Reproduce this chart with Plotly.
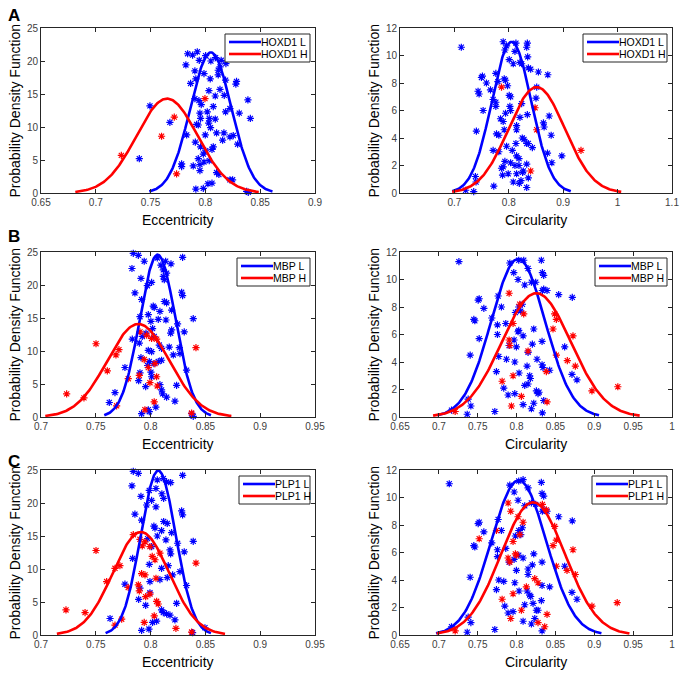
import numpy as np
import plotly.graph_objects as go

# ---------------- data ----------------
# Panel A : HOXD1  -- eccentricity
hoxd1_ecc_L = [(0.7838,21.1),(0.7883,20.9),(0.7926,21.4),(0.7944,20.1),(0.8002,20.8),(0.805,20.0),(0.8093,20.5),
               (0.8144,20.1),(0.8187,19.6),(0.8133,19.1),(0.7904,18.5),(0.7822,19.4),(0.7865,16.6),(0.7913,17.3),
               (0.7987,18.1),(0.8044,17.3),(0.8117,17.9),(0.8117,18.6),(0.8184,17.1),(0.8284,16.9),(0.8278,16.5),
               (0.8032,15.5),(0.8133,15.7),(0.7904,14.3),(0.7941,14.0),(0.7962,13.4),(0.809,14.7),(0.8172,14.8),
               (0.8224,12.8),(0.8388,14.1),(0.841,11.3),(0.8309,12.1),(0.8184,12.3),(0.8017,12.3),(0.8072,13.1),
               (0.809,11.2),(0.8035,11.3),(0.795,12.1),(0.7956,11.3),(0.7494,13.2),(0.7676,10.7),(0.7935,10.3),
               (0.792,10.4),(0.803,10.6),(0.8047,9.9),(0.7999,8.8),(0.7908,7.7),(0.7829,8.8),(0.8102,9.1),
               (0.8169,9.1),(0.8224,8.5),(0.8254,8.7),(0.8157,8.0),(0.8294,7.4),(0.8072,7.0),(0.7956,7.0),
               (0.8002,6.4),(0.806,6.6),(0.7981,5.9),(0.7935,5.2),(0.8035,4.9),(0.7783,4.4),(0.7783,4.0),
               (0.7889,4.1),(0.795,4.3),(0.7987,4.7),(0.7397,5.2),(0.795,3.4),(0.8102,3.1),(0.8123,2.8),
               (0.8224,2.0),(0.8248,2.0),(0.8023,1.4),(0.806,1.5),(0.7913,0.6),(0.7981,0.7),(0.8376,0.25),(0.8391,0.1)]
hoxd1_ecc_H = [(0.7996,14.3),(0.7716,11.5),(0.76,8.6),(0.7233,5.7),(0.7737,2.9)]

# Panel A : HOXD1  -- circularity
hoxd1_circ_L = [(0.7127,10.6),(0.7897,11.0),(0.7928,10.4),(0.7959,10.7),(0.8131,10.9),(0.8113,10.3),(0.8341,10.9),
                (0.8329,10.6),(0.8347,9.9),(0.8205,9.5),(0.8236,9.4),(0.8008,9.7),(0.8082,9.4),(0.8359,9.1),
                (0.8402,9.0),(0.8544,8.8),(0.8717,8.6),(0.7515,8.5),(0.7497,8.4),(0.7589,8.0),(0.7762,8.7),
                (0.7799,8.1),(0.7916,8.3),(0.794,8.2),(0.7977,7.8),(0.7663,7.5),(0.7435,7.4),(0.7454,7.2),
                (0.7712,6.8),(0.7762,6.6),(0.8008,7.1),(0.8033,7.0),(0.7762,6.3),(0.802,6.3),(0.8033,6.0),
                (0.7528,6.0),(0.8236,6.5),(0.8513,7.7),(0.85,6.9),(0.8205,5.5),(0.8341,5.7),(0.794,5.8),
                (0.7848,5.4),(0.7897,5.2),(0.8742,5.6),(0.8637,5.1),(0.8649,4.8),(0.8143,4.9),(0.8143,4.6),
                (0.7404,4.5),(0.7774,4.3),(0.7817,4.2),(0.7916,4.6),(0.8779,4.2),(0.8248,4.0),(0.8279,3.9),
                (0.7959,3.4),(0.8131,3.6),(0.8329,3.6),(0.8359,3.6),(0.8433,3.3),(0.7712,3.1),(0.7817,3.0),
                (0.8064,3.1),(0.8975,2.7),(0.8711,2.9),(0.8791,2.2),(0.7928,2.3),(0.8143,2.7),(0.8187,2.5),
                (0.8033,2.2),(0.8329,2.1),(0.7897,1.9),(0.8113,2.0),(0.8187,2.0),(0.8267,1.6),(0.8254,1.5),
                (0.7866,1.8),(0.7885,1.3),(0.7989,1.4),(0.8143,1.4),(0.7386,1.2),(0.7398,0.8),(0.8082,0.8),
                (0.8193,0.7),(0.8224,0.9),(0.8359,1.1),(0.7724,0.5),(0.8329,0.4),(0.7207,0.2),(0.7355,0.1)]
hoxd1_circ_H = [(0.7866,7.7),(0.8483,6.2),(0.8513,4.6),(0.8402,1.6),(0.9327,3.1)]

# Panel B : MBP -- eccentricity
mbp_ecc_L = [(0.7842,24.8),(0.7888,24.5),(0.7942,23.6),(0.8061,24.1),(0.8292,24.2),(0.783,22.5),(0.8094,23.0),
             (0.8137,23.6),(0.8186,23.2),(0.8116,22.3),(0.8146,21.8),(0.7912,21.0),(0.8009,20.4),(0.8116,21.3),
             (0.8125,20.8),(0.7857,18.8),(0.797,19.9),(0.8283,18.9),(0.8292,18.4),(0.7918,17.8),(0.8024,16.8),
             (0.8033,16.6),(0.8125,17.5),(0.8146,17.3),(0.8192,16.2),(0.8085,16.0),(0.7979,15.5),(0.807,14.8),
             (0.8389,14.9),(0.7903,15.2),(0.8003,14.5),(0.814,14.7),(0.8246,14.1),(0.8018,13.4),(0.8192,13.2),
             (0.8183,12.7),(0.8307,12.9),(0.7958,12.7),(0.7924,12.2),(0.8033,12.2),(0.7833,11.8),(0.81,10.4),
             (0.7897,11.2),(0.8079,10.9),(0.817,10.6),(0.8262,10.5),(0.8207,9.4),(0.7979,10.1),(0.8009,9.9),
             (0.7766,7.5),(0.7912,9.0),(0.7973,7.8),(0.7988,8.4),(0.803,8.1),(0.807,8.4),(0.81,8.6),
             (0.8268,9.6),(0.8328,7.1),(0.7903,6.7),(0.8003,6.8),(0.8009,6.1),(0.7891,5.5),(0.7955,4.6),
             (0.8085,4.9),(0.8237,4.8),(0.81,4.1),(0.8109,3.5),(0.7675,3.7),(0.8146,3.0),(0.8222,2.4),
             (0.7623,2.2),(0.7979,1.1),(0.8048,1.5),(0.7918,0.5),(0.7988,0.8),(0.8374,0.5),(0.8389,0.1)]
mbp_ecc_H = [(0.7903,12.9),(0.7964,12.4),(0.8009,11.9),(0.8055,11.8),(0.7502,11.1),(0.7711,10.2),(0.7684,9.4),
             (0.8414,10.5),(0.7942,8.7),(0.804,8.1),(0.7979,7.5),(0.7605,7.0),(0.7897,6.3),(0.8055,6.1),
             (0.7796,5.8),(0.7994,5.2),(0.8061,4.7),(0.7234,3.5),(0.769,1.7),(0.7948,1.1),(0.8033,2.3),
             (0.8374,0.6),(0.7392,2.9)]

# Panel B : MBP -- circularity
mbp_circ_L = [(0.7258,11.3),(0.7913,11.2),(0.7964,10.5),(0.8028,11.4),(0.8092,11.4),(0.8148,10.8),(0.8319,11.4),
              (0.8332,10.5),(0.8349,10.3),(0.8019,10.0),(0.8191,9.8),(0.8246,9.8),(0.8105,9.6),(0.8332,9.2),
              (0.8392,9.2),(0.8349,9.3),(0.8542,8.9),(0.8717,8.7),(0.7506,8.5),(0.7519,8.6),(0.7579,7.9),
              (0.7763,8.8),(0.7805,8.0),(0.7985,7.6),(0.8054,7.7),(0.8028,8.0),(0.8075,8.2),(0.745,7.1),
              (0.7463,7.0),(0.7681,7.2),(0.7861,6.8),(0.7754,6.7),(0.7754,6.0),(0.7519,5.7),(0.8028,6.3),
              (0.8019,6.2),(0.8221,6.4),(0.7968,5.6),(0.8084,5.9),(0.8328,5.5),(0.7904,5.2),(0.7998,5.1),
              (0.8619,5.1),(0.8203,5.3),(0.8148,4.7),(0.7403,4.5),(0.7771,4.4),(0.787,4.2),(0.8263,4.2),
              (0.7977,4.0),(0.8135,3.7),(0.8328,3.8),(0.834,3.6),(0.8426,3.4),(0.7741,3.3),(0.8032,3.2),
              (0.8169,3.0),(0.8178,2.8),(0.8713,3.1),(0.8777,2.7),(0.7835,2.1),(0.8105,2.3),(0.8148,2.4),
              (0.8255,1.9),(0.8276,1.7),(0.8289,1.8),(0.7891,1.6),(0.7977,1.7),(0.8349,1.2),(0.7377,1.3),
              (0.7412,0.8),(0.8084,0.9),(0.8191,0.6),(0.8221,1.0),(0.772,0.4),(0.7365,0.2),(0.8332,0.3),(0.7163,0.5)]
mbp_circ_H = [(0.7904,9.0),(0.8041,8.2),(0.8092,7.5),(0.7955,6.8),(0.8469,6.4),(0.8512,7.1),(0.849,7.5),
              (0.8726,5.9),(0.7904,5.6),(0.7913,5.2),(0.8148,4.8),(0.8512,4.5),(0.8653,4.1),(0.8756,3.7),
              (0.7955,3.0),(0.7814,2.6),(0.8383,3.3),(0.9303,2.2),(0.897,1.9),(0.8062,1.5),(0.8392,1.1),
              (0.7934,0.8),(0.721,0.4)]

# Panel C : PLP1 -- eccentricity
plp1_ecc_L = [(0.7842,24.8),(0.7888,24.5),(0.8292,24.2),(0.8061,23.5),(0.8116,23.7),(0.8146,23.2),(0.8183,23.1),
              (0.783,22.6),(0.8049,22.2),(0.7912,21.0),(0.7988,21.9),(0.8103,21.4),(0.8119,20.7),(0.8009,20.4),
              (0.7964,19.7),(0.8049,19.4),(0.7857,18.3),(0.8283,18.8),(0.8292,18.2),(0.7918,17.4),(0.803,16.5),
              (0.804,16.2),(0.8119,17.2),(0.8152,16.9),(0.81,15.8),(0.8192,15.5),(0.8389,14.2),(0.7973,14.6),
              (0.8061,15.0),(0.814,14.4),(0.8246,13.9),(0.8009,13.4),(0.8177,12.9),(0.8183,12.3),(0.8307,12.6),
              (0.7836,11.6),(0.81,10.1),(0.7988,10.7),(0.8161,10.5),(0.8268,9.6),(0.8201,9.1),(0.7766,7.7),
              (0.7903,7.1),(0.7994,8.1),(0.8085,8.4),(0.8152,8.7),(0.8328,7.5),(0.7891,5.4),(0.7994,6.4),
              (0.7955,4.5),(0.8237,4.8),(0.81,3.8),(0.8116,3.4),(0.763,2.5),(0.8146,3.2),(0.8177,3.0),
              (0.8222,2.3),(0.8018,1.9),(0.8055,2.1),(0.7918,0.7),(0.7985,0.9),(0.8496,1.1),(0.8383,0.35)]
plp1_ecc_H = [(0.7502,12.8),(0.7842,15.2),(0.7903,14.5),(0.7949,14.1),(0.7924,13.5),(0.7994,13.4),(0.8085,12.4),
              (0.8015,11.9),(0.804,11.4),(0.772,10.5),(0.7675,10.1),(0.8414,10.9),(0.7918,9.3),(0.7949,9.1),
              (0.8049,8.6),(0.7599,8.1),(0.7888,7.6),(0.7796,7.2),(0.7897,6.7),(0.7994,6.2),(0.7955,5.8),
              (0.8055,5.1),(0.807,4.7),(0.7228,3.8),(0.7402,3.4),(0.8033,2.9),(0.7942,1.9),(0.7675,1.5),
              (0.7736,2.4),(0.8231,1.0),(0.8374,0.45)]

# Panel C : PLP1 -- circularity
plp1_circ_L = [(0.7134,11.0),(0.7913,10.9),(0.7969,10.4),(0.8028,11.2),(0.8084,11.3),(0.8148,10.7),(0.8319,11.1),
               (0.8328,10.3),(0.8349,10.1),(0.8019,9.8),(0.8191,9.6),(0.8246,9.5),(0.8105,9.4),(0.8332,9.0),
               (0.8392,9.0),(0.8349,9.1),(0.8542,8.6),(0.8717,8.3),(0.7506,8.1),(0.7519,8.2),(0.7579,7.5),
               (0.7763,8.4),(0.7805,7.6),(0.7985,7.2),(0.8054,7.3),(0.8028,7.6),(0.8075,7.8),(0.745,6.5),
               (0.7463,6.4),(0.7681,6.7),(0.7861,6.3),(0.7754,6.2),(0.7754,5.7),(0.8028,5.8),(0.8221,5.9),
               (0.7968,5.5),(0.8084,5.6),(0.8328,5.3),(0.7904,5.3),(0.7998,4.7),(0.8619,5.0),(0.8203,5.1),
               (0.8148,4.8),(0.8148,4.4),(0.7403,4.2),(0.7771,4.0),(0.7835,3.9),(0.7977,3.8),(0.8135,3.2),
               (0.8328,3.6),(0.8426,3.5),(0.7741,3.3),(0.8032,3.2),(0.8169,2.9),(0.8182,2.8),(0.8713,3.1),
               (0.8777,2.6),(0.7848,2.1),(0.8105,2.2),(0.8212,2.3),(0.8255,1.8),(0.8276,1.8),(0.8319,2.5),
               (0.7891,1.6),(0.7955,1.7),(0.8234,1.2),(0.7377,1.3),(0.7412,0.9),(0.8084,1.0),(0.8191,0.8),
               (0.772,0.4),(0.7365,0.2),(0.8328,0.3),(0.7163,0.6)]
plp1_circ_H = [(0.7891,9.6),(0.7925,9.0),(0.8019,8.6),(0.8084,8.2),(0.8041,7.3),(0.7955,6.8),(0.7741,7.6),
               (0.7519,7.0),(0.7985,5.9),(0.7891,5.6),(0.7913,5.3),(0.8,5.8),(0.8332,9.5),(0.8383,9.1),
               (0.849,7.9),(0.8512,6.9),(0.8469,6.5),(0.8726,6.2),(0.8512,5.0),(0.8649,4.7),(0.8756,4.4),
               (0.8234,4.1),(0.8276,3.8),(0.8126,3.5),(0.7955,3.0),(0.7814,2.6),(0.8062,1.8),(0.7925,1.2),
               (0.8392,1.5),(0.8276,0.9),(0.8362,0.6),(0.897,2.1),(0.9295,2.35),(0.721,0.3)]

# fitted normal distributions (mean, std)
gene_names = ["HOXD1", "MBP", "PLP1"]
ecc_mu_L = [0.805, 0.8064, 0.807]
ecc_sd_L = [0.01873, 0.01622, 0.01602]
ecc_mu_H = [0.765, 0.7888, 0.7912]
ecc_sd_H = [0.0279, 0.0283, 0.02557]
circ_mu_L = [0.805, 0.802, 0.8028]
circ_sd_L = [0.0363, 0.0347, 0.03546]
circ_mu_H = [0.8513, 0.8255, 0.8212]
circ_sd_H = [0.0518, 0.0443, 0.04134]

ecc_ticks = [[0.65, 0.7, 0.75, 0.8, 0.85, 0.9], [0.7, 0.75, 0.8, 0.85, 0.9, 0.95], [0.7, 0.75, 0.8, 0.85, 0.9, 0.95]]
ecc_ranges = [[0.65, 0.9], [0.7, 0.95], [0.7, 0.95]]
circ_ticks = [[0.7, 0.8, 0.9, 1.0, 1.1], [0.65, 0.7, 0.75, 0.8, 0.85, 0.9, 0.95, 1.0], [0.65, 0.7, 0.75, 0.8, 0.85, 0.9, 0.95, 1.0]]
circ_ranges = [[0.6, 1.1], [0.65, 1.0], [0.65, 1.0]]
ecc_yticks = [0, 5, 10, 15, 20, 25]
circ_yticks = [0, 2, 4, 6, 8, 10, 12]
panel_letters = ["A", "B", "C"]

ecc_L = [hoxd1_ecc_L, mbp_ecc_L, plp1_ecc_L]
ecc_H = [hoxd1_ecc_H, mbp_ecc_H, plp1_ecc_H]
circ_L = [hoxd1_circ_L, mbp_circ_L, plp1_circ_L]
circ_H = [hoxd1_circ_H, mbp_circ_H, plp1_circ_H]

# ---------------- layout ----------------
W, H = 683, 678
# plot rectangles in window pixels: (left, top, right, bottom)
rects = [(41, 28, 315, 193), (400, 28, 672, 193),
         (41, 252, 315, 417), (400, 252, 672, 417),
         (41, 470, 315, 635), (400, 470, 672, 635)]
legend_widths = [[85, 84], [73, 72], [71, 75]]
BLUE = "#0000ff"
RED = "#ff0000"
AXC = "#262626"
FONT = "Arial, Liberation Sans, sans-serif"


def fmt(v):
    return f"{v:.2f}".rstrip("0").rstrip(".")


def pdf_curve(mu, sd):
    xs = np.linspace(mu - 3 * sd, mu + 3 * sd, 200)
    ys = np.exp(-0.5 * ((xs - mu) / sd) ** 2) / (sd * np.sqrt(2 * np.pi))
    return xs, ys


def px(x):
    return x / W


def py(y):
    return 1 - y / H


fig = go.Figure()
layout = dict(template="none", width=W, height=H, margin=dict(l=0, r=0, t=0, b=0, autoexpand=False),
              paper_bgcolor="white", plot_bgcolor="white",
              font=dict(family=FONT, color="black"), showlegend=False)
annotations = []
shapes = []

for row in range(3):
    for col in range(2):
        i = row * 2 + col
        sfx = "" if i == 0 else str(i + 1)
        xa, ya = "x" + sfx, "y" + sfx
        L, T, R, B = rects[i]
        if col == 0:
            ptsL, ptsH = ecc_L[row], ecc_H[row]
            muL, sdL, muH, sdH = ecc_mu_L[row], ecc_sd_L[row], ecc_mu_H[row], ecc_sd_H[row]
            xr, xt, yr, yt, xtitle = ecc_ranges[row], ecc_ticks[row], [0, 25], ecc_yticks, "Eccentricity"
        else:
            ptsL, ptsH = circ_L[row], circ_H[row]
            muL, sdL, muH, sdH = circ_mu_L[row], circ_sd_L[row], circ_mu_H[row], circ_sd_H[row]
            xr, xt, yr, yt, xtitle = circ_ranges[row], circ_ticks[row], [0, 12], circ_yticks, "Circularity"

        for pts, c in [(ptsL, BLUE), (ptsH, RED)]:
            fig.add_trace(go.Scatter(
                x=[p[0] for p in pts], y=[p[1] for p in pts], mode="markers",
                marker=dict(symbol="asterisk-open", size=6, color=c, line=dict(color=c, width=1.2)),
                showlegend=False, xaxis=xa, yaxis=ya, cliponaxis=False, hoverinfo="skip"))
        for mu, sd, c, suffix in [(muL, sdL, BLUE, " L"), (muH, sdH, RED, " H")]:
            xs, ys = pdf_curve(mu, sd)
            fig.add_trace(go.Scatter(
                x=xs, y=ys, mode="lines", line=dict(color=c, width=2.6),
                name=gene_names[row] + suffix, xaxis=xa, yaxis=ya, showlegend=False))

        axcommon = dict(showgrid=False, zeroline=False, showline=True, mirror="ticks", automargin=False,
                        linecolor=AXC, linewidth=1, ticks="inside", ticklen=4, tickwidth=1,
                        tickcolor=AXC, tickfont=dict(size=10, color="#404040", family=FONT))
        layout["xaxis" + sfx] = dict(domain=[px(L), px(R)], anchor=ya, range=xr,
                                     tickvals=xt, ticktext=[fmt(v) for v in xt], **axcommon)
        layout["yaxis" + sfx] = dict(domain=[py(B), py(T)], anchor=xa, range=yr,
                                     tickvals=yt, ticktext=[str(v) for v in yt], **axcommon)

        # legend box (drawn like the MATLAB legend)
        bw = legend_widths[row][col]
        lx1 = R - 5
        lx0 = lx1 - bw
        ly0 = T + 6
        ly1 = ly0 + 28
        shapes.append(dict(type="rect", xref="paper", yref="paper", x0=px(lx0), x1=px(lx1),
                           y0=py(ly1), y1=py(ly0), line=dict(color=AXC, width=1), fillcolor="white",
                           layer="above"))
        for k, (c, suffix) in enumerate([(BLUE, " L"), (RED, " H")]):
            yy = ly0 + 8 + 12 * k
            shapes.append(dict(type="line", xref="paper", yref="paper", x0=px(lx0 + 4), x1=px(lx0 + 36),
                               y0=py(yy), y1=py(yy), line=dict(color=c, width=2.6), layer="above"))
            annotations.append(dict(text=gene_names[row] + suffix, x=px(lx0 + 34), y=py(yy),
                                    xref="paper", yref="paper", showarrow=False,
                                    xanchor="left", yanchor="middle",
                                    font=dict(size=10.5, color="black", family=FONT)))

        # axis titles
        annotations.append(dict(text=xtitle, x=px((L + R) / 2), y=py(B + 27),
                                xref="paper", yref="paper", showarrow=False,
                                xanchor="center", yanchor="middle",
                                font=dict(size=14, color="black", family=FONT)))
        annotations.append(dict(text="Probability Density Function",
                                x=px(14 if col == 0 else 373), y=py((T + B) / 2),
                                xref="paper", yref="paper", showarrow=False, textangle=-90,
                                xanchor="center", yanchor="middle",
                                font=dict(size=14, color="black", family=FONT)))
    # panel letter
    annotations.append(dict(text="<b>" + panel_letters[row] + "</b>", x=px(14),
                            y=py([15, 236, 461][row]), xref="paper", yref="paper",
                            showarrow=False, xanchor="center", yanchor="middle",
                            font=dict(size=17, color="black", family=FONT)))

layout["annotations"] = annotations
layout["shapes"] = shapes
fig.update_layout(**layout)
# remove the browser's default 8px page margin so the figure sits at the window's corner
fig.write_html("out.html", config={"displayModeBar": False},
               post_script="document.body.style.margin='0px';")
